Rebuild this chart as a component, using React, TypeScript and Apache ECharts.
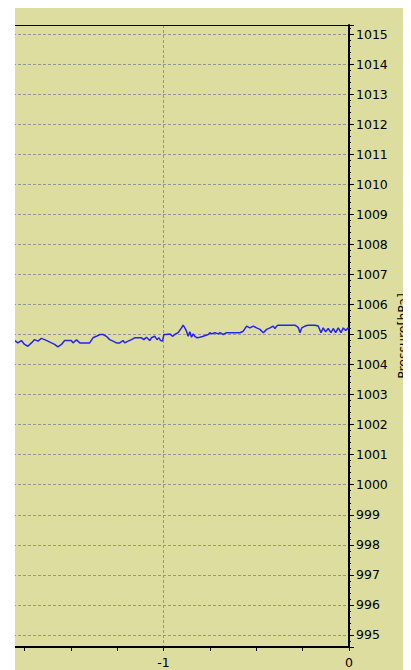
import React, { useEffect, useRef } from "react";
import * as echarts from "echarts";

// time axis (relative units) and pressure values [hPa]
const times = [
  -1.802, -1.785, -1.766, -1.749, -1.731, -1.712, -1.695, -1.677, -1.658, -1.641,
  -1.623, -1.604, -1.587, -1.569, -1.55, -1.533, -1.515, -1.497, -1.488, -1.469,
  -1.451, -1.434, -1.416, -1.398, -1.38, -1.362, -1.343, -1.326, -1.308, -1.29,
  -1.272, -1.254, -1.236, -1.218, -1.209, -1.191, -1.173, -1.155, -1.137, -1.119,
  -1.106, -1.092, -1.074, -1.065, -1.047, -1.035, -1.024, -1.016, -1.005, -0.998,
  -0.984, -0.966, -0.951, -0.939, -0.921, -0.903, -0.894, -0.885, -0.876, -0.867,
  -0.858, -0.849, -0.84, -0.831, -0.819, -0.804, -0.786, -0.759, -0.75, -0.741,
  -0.723, -0.705, -0.696, -0.678, -0.66, -0.588, -0.57, -0.552, -0.534, -0.516,
  -0.498, -0.48, -0.462, -0.444, -0.426, -0.409, -0.399, -0.39, -0.382, -0.291,
  -0.274, -0.264, -0.255, -0.237, -0.22, -0.183, -0.166, -0.151, -0.139, -0.126,
  -0.112, -0.097, -0.085, -0.072, -0.058, -0.043, -0.031, -0.018, -0.004, 0,
];
const pressure = [
  1004.8, 1004.72, 1004.8, 1004.67, 1004.61, 1004.72, 1004.83, 1004.78, 1004.87, 1004.83,
  1004.78, 1004.72, 1004.67, 1004.59, 1004.67, 1004.8, 1004.8, 1004.8, 1004.72, 1004.82,
  1004.72, 1004.72, 1004.72, 1004.72, 1004.89, 1004.94, 1005.0, 1005.0, 1004.94, 1004.83,
  1004.78, 1004.72, 1004.72, 1004.8, 1004.72, 1004.78, 1004.83, 1004.89, 1004.89, 1004.89,
  1004.83, 1004.91, 1004.8, 1004.89, 1004.94, 1004.83, 1004.89, 1004.8, 1004.78, 1005.0,
  1005.0, 1005.02, 1004.94, 1005.0, 1005.06, 1005.22, 1005.31, 1005.22, 1005.11, 1004.94,
  1005.09, 1004.91, 1005.02, 1004.94, 1004.89, 1004.91, 1004.94, 1005.0, 1005.06, 1005.02,
  1005.06, 1005.02, 1005.06, 1005.0, 1005.06, 1005.06, 1005.11, 1005.28, 1005.22, 1005.28,
  1005.22, 1005.17, 1005.06, 1005.17, 1005.22, 1005.28, 1005.2, 1005.28, 1005.31, 1005.31,
  1005.24, 1005.06, 1005.22, 1005.28, 1005.31, 1005.31, 1005.28, 1005.06, 1005.22, 1005.09,
  1005.2, 1005.06, 1005.2, 1005.06, 1005.22, 1005.06, 1005.22, 1005.13, 1005.22, 1005.22,
];

const xTickLabels = ["-1", "0"];
const yName = "Pressure[hPa]";

const FONT = "DejaVu Sans";
const BG = "#DDDDA0";

export default function App() {
  const ref = useRef<HTMLDivElement>(null);
  useEffect(() => {
    if (!ref.current) return;
    const chart = echarts.init(ref.current, undefined, { renderer: "svg" });
    const data = times.map((t, i) => [t, pressure[i]]);
    const dashed = { color: "#959595", width: 1, type: [3, 2] as any };
    chart.setOption({
      animation: false,
      backgroundColor: BG,
      grid: {
        left: 0,
        right: 62,
        top: 17,
        bottom: 23,
        outerBoundsMode: "none",
        containLabel: false,
        show: false,
      },
      xAxis: [
        {
          type: "value",
          min: -2,
          max: 0,
          interval: 1,
          axisLine: { show: true, onZero: false, lineStyle: { color: "#000", width: 2 } },
          axisTick: { show: true, length: 4, lineStyle: { color: "#000" } },
          minorTick: { show: true, splitNumber: 4, length: 4, lineStyle: { color: "#000" } },
          splitLine: { show: true, lineStyle: dashed, showMinLine: false, showMaxLine: false },
          axisLabel: {
            margin: 9,
            fontFamily: FONT,
            fontSize: 12.5,
            color: "#000",
            formatter: (v: number) => {
              const s = String(Math.round(v));
              return xTickLabels.includes(s) ? s : "";
            },
          },
        },
        {
          type: "value",
          position: "top",
          min: -2,
          max: 0,
          interval: 1,
          axisLine: { show: true, onZero: false, lineStyle: { color: "#000", width: 1 } },
          axisTick: { show: false },
          axisLabel: { show: false },
          splitLine: { show: false },
        },
      ],
      yAxis: {
        type: "value",
        position: "right",
        min: 994.6,
        max: 1015.3,
        splitNumber: 20,
        axisLine: { show: true, onZero: false, lineStyle: { color: "#000", width: 2 } },
        axisTick: { show: true, length: 5, lineStyle: { color: "#000" } },
        minorTick: { show: true, splitNumber: 5, length: 2, lineStyle: { color: "#000" } },
        splitLine: { show: true, lineStyle: dashed, showMinLine: false, showMaxLine: false },
        axisLabel: {
          margin: 7,
          fontFamily: FONT,
          fontSize: 12.5,
          color: "#000",
          formatter: (v: number) =>
            Math.abs(v - Math.round(v)) < 1e-6 ? String(Math.round(v)) : "",
        },
        name: yName,
        nameLocation: "middle",
        nameRotate: 90,
        nameGap: 47,
        nameMoveOverlap: false,
        nameTextStyle: { fontFamily: FONT, fontSize: 12.5, color: "#000" },
      },
      series: [
        {
          type: "line",
          xAxisIndex: 0,
          data,
          showSymbol: false,
          symbol: "none",
          clip: true,
          lineStyle: { color: "#2424f0", width: 1.5 },
        },
      ],
    });
    return () => chart.dispose();
  }, []);
  return (
    <div
      style={{
        marginLeft: 7,
        width: 396,
        height: 662,
        overflow: "hidden",
        position: "relative",
      }}
    >
      <div ref={ref} style={{ marginLeft: -37, width: 433, height: 662 }} />
    </div>
  );
}
